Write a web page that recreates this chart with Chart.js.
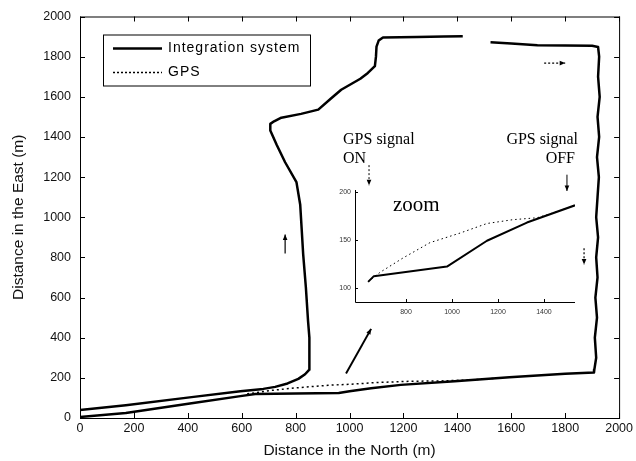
<!DOCTYPE html>
<html>
<head>
<meta charset="utf-8">
<script src="https://cdn.jsdelivr.net/npm/chart.js@4.4.1/dist/chart.umd.min.js"></script>
<style>
html, body { margin: 0; padding: 0; background: #fff; }
#wrap { position: relative; width: 636px; height: 461px; }
#main { position: absolute; left: 0; top: 0; }
#zoom { position: absolute; left: 330px; top: 130px; }
</style>
</head>
<body>
<div id="wrap">
<canvas id="main" width="636" height="461"></canvas>
<canvas id="zoom" width="255" height="195"></canvas>
</div>
<script>
// main trajectory (m)
const pathNorthA = [0, 170, 414, 595, 680, 724, 770, 810, 835, 850, 852, 850, 846, 838, 828, 822, 817, 803, 761, 730, 706, 706, 720, 747, 820, 884, 930, 969, 1040, 1068, 1094, 1098, 1100, 1108, 1124, 1250, 1350, 1420];
const pathEastA = [40, 64, 104, 133, 145, 155, 172, 195, 218, 240, 260, 400, 484, 650, 815, 950, 1062, 1175, 1274, 1360, 1432, 1465, 1478, 1496, 1515, 1536, 1590, 1635, 1690, 1719, 1753, 1800, 1850, 1880, 1896, 1898, 1900, 1902];
const pathNorthB = [1523, 1600, 1697, 1800, 1900, 1922, 1926, 1922, 1928, 1920, 1926, 1918, 1925, 1920, 1915, 1922, 1915, 1920, 1912, 1918, 1910, 1915, 1908, 1907, 1800, 1593, 1390, 1190, 1080, 1000, 960, 800, 650, 595, 414, 170, 0];
const pathEastB = [1872, 1866, 1857, 1856, 1854, 1848, 1800, 1700, 1600, 1500, 1400, 1300, 1200, 1100, 1000, 900, 800, 700, 600, 500, 400, 300, 240, 227, 220, 203, 183, 165, 148, 133, 124, 122, 120, 109, 74, 25, 5];
const gpsNorth = [620, 700, 800, 920, 1000, 1105, 1227, 1350, 1450, 1535];
const gpsEast = [120, 136, 150, 163, 168, 177, 183, 185, 190, 197];

// zoomed part
const zoomIntNorth = [635, 660, 978, 1152, 1326, 1535];
const zoomIntEast = [106, 112, 122, 149, 168, 186];
const zoomGpsNorth = [635, 687, 787, 904, 1035, 1152, 1265, 1370, 1439, 1535];
const zoomGpsEast = [106, 116, 131, 147, 157, 167, 171, 173, 178, 186];

const zoomNorthTicks = [800, 1000, 1200, 1400];
const zoomEastTicks = [100, 150, 200];

const seriesNames = ["Integration system", "GPS"];

const pts = (xs, ys) => xs.map((v, i) => ({ x: v, y: ys[i] }));
const plain = v => String(v);

function arrow(ctx, x1, y1, x2, y2, dashed, width) {
	ctx.save();
	ctx.strokeStyle = "#000";
	ctx.fillStyle = "#000";
	ctx.lineWidth = width || 1.2;
	ctx.setLineDash(dashed ? [2, 2] : []);
	ctx.beginPath();
	ctx.moveTo(x1, y1);
	ctx.lineTo(x2, y2);
	ctx.stroke();
	ctx.setLineDash([]);
	const a = Math.atan2(y2 - y1, x2 - x1), h = 6;
	ctx.beginPath();
	ctx.moveTo(x2, y2);
	ctx.lineTo(x2 - h * Math.cos(a - 0.4), y2 - h * Math.sin(a - 0.4));
	ctx.lineTo(x2 - h * Math.cos(a + 0.4), y2 - h * Math.sin(a + 0.4));
	ctx.closePath();
	ctx.fill();
	ctx.restore();
}

// direction arrows on the main plot, data units
const mainArrows = [
	{ x1: 761, y1: 820, x2: 761, y2: 914, dashed: false, w: 1.2 },
	{ x1: 1722, y1: 1768, x2: 1800, y2: 1768, dashed: true, w: 1.2 },
	{ x1: 1870, y1: 845, x2: 1870, y2: 765, dashed: true, w: 1.2 },
	{ x1: 987, y1: 222, x2: 1080, y2: 444, dashed: false, w: 2 }
];

const mainFrame = {
	id: "mainFrame",
	afterDatasetsDraw(chart) {
		const { ctx, chartArea: a, scales: { x, y } } = chart;
		ctx.save();
		ctx.strokeStyle = "#000";
		ctx.lineWidth = 1;
		ctx.strokeRect(a.left + 0.5, a.top + 0.5, a.right - a.left, a.bottom - a.top);
		ctx.beginPath();
		x.ticks.forEach(t => {
			const p = Math.round(x.getPixelForValue(t.value)) + 0.5;
			ctx.moveTo(p, a.bottom); ctx.lineTo(p, a.bottom - 5);
			ctx.moveTo(p, a.top); ctx.lineTo(p, a.top + 5);
		});
		y.ticks.forEach(t => {
			const p = Math.round(y.getPixelForValue(t.value)) + 0.5;
			ctx.moveTo(a.left, p); ctx.lineTo(a.left + 5, p);
			ctx.moveTo(a.right, p); ctx.lineTo(a.right - 5, p);
		});
		ctx.stroke();

		mainArrows.forEach(r => arrow(ctx,
			x.getPixelForValue(r.x1), y.getPixelForValue(r.y1),
			x.getPixelForValue(r.x2), y.getPixelForValue(r.y2), r.dashed, r.w));

		// legend box
		const lx = a.left + 23, ly = a.top + 18, lw = 207, lh = 51;
		ctx.fillStyle = "#fff";
		ctx.fillRect(lx, ly, lw, lh);
		ctx.lineWidth = 1;
		ctx.strokeRect(lx + 0.5, ly + 0.5, lw, lh);
		ctx.font = "14px 'Liberation Sans', Arial, sans-serif";
		ctx.letterSpacing = "1px";
		ctx.textBaseline = "middle";
		ctx.fillStyle = "#000";
		[[2.5, []], [1.3, [2, 2]]].forEach((s, i) => {
			const yy = ly + 14 + i * 24;
			ctx.lineWidth = s[0];
			ctx.setLineDash(s[1]);
			ctx.beginPath();
			ctx.moveTo(lx + 10, yy); ctx.lineTo(lx + 59, yy);
			ctx.stroke();
			ctx.fillText(seriesNames[i], lx + 65, yy);
		});
		ctx.restore();
	}
};

const mainAxisFont = { family: "'Liberation Sans', Arial, sans-serif", size: 12.5 };
const titleFont = { family: "'Liberation Sans', Arial, sans-serif", size: 15.5 };

new Chart(document.getElementById("main").getContext("2d"), {
	type: "line",
	data: {
		datasets: [
			{ label: seriesNames[0], data: pts(pathNorthA, pathEastA), borderColor: "#000", borderWidth: 2.5, borderJoinStyle: "round", pointRadius: 0, tension: 0 },
			{ label: seriesNames[0], data: pts(pathNorthB, pathEastB), borderColor: "#000", borderWidth: 2.5, borderJoinStyle: "round", pointRadius: 0, tension: 0 },
			{ label: seriesNames[1], data: pts(gpsNorth, gpsEast), borderColor: "#000", borderWidth: 1.5, borderDash: [2, 3], pointRadius: 0, tension: 0 }
		]
	},
	options: {
		responsive: false,
		animation: false,
		layout: { padding: { top: 14, right: 15, left: 0, bottom: 0 } },
		plugins: { legend: { display: false }, tooltip: { enabled: false } },
		scales: {
			x: {
				type: "linear", min: 0, max: 2000,
				grid: { display: false, drawTicks: false },
				border: { display: false },
				ticks: { stepSize: 200, font: mainAxisFont, color: "#111", padding: 3, maxRotation: 0, autoSkip: false, callback: plain },
				title: { display: true, text: "Distance in the North (m)", font: titleFont, color: "#111", padding: { top: 0, bottom: 1 } },
				afterFit: s => { s.height = 43; }
			},
			y: {
				type: "linear", min: 0, max: 2000,
				grid: { display: false, drawTicks: false },
				border: { display: false },
				ticks: { stepSize: 200, font: mainAxisFont, color: "#111", padding: 9, callback: plain },
				title: { display: true, text: "Distance in the East (m)", font: titleFont, color: "#111", padding: { top: 9, bottom: 0 } },
				afterFit: s => { s.width = 80; }
			}
		}
	},
	plugins: [mainFrame]
});

// inset annotations, inset data units
const zoomNotes = [
	{ text: "GPS signal", x: 526, y: 250, align: "left", size: 16 },
	{ text: "ON", x: 526, y: 230, align: "left", size: 16 },
	{ text: "GPS signal", x: 1548, y: 250, align: "right", size: 16 },
	{ text: "OFF", x: 1535, y: 230, align: "right", size: 16 },
	{ text: "zoom", x: 743, y: 180, align: "left", size: 21 }
];
const zoomArrows = [
	{ x1: 639, y1: 228, x2: 639, y2: 207, dashed: true },
	{ x1: 1500, y1: 218, x2: 1500, y2: 201, dashed: false }
];

const zoomFrame = {
	id: "zoomFrame",
	afterDatasetsDraw(chart) {
		const { ctx, chartArea: a, scales: { x, y } } = chart;
		ctx.save();
		ctx.strokeStyle = "#000";
		ctx.lineWidth = 1;
		ctx.beginPath();
		ctx.moveTo(a.left + 0.5, a.top);
		ctx.lineTo(a.left + 0.5, a.bottom + 0.5);
		ctx.lineTo(a.right, a.bottom + 0.5);
		x.ticks.forEach(t => {
			const p = Math.round(x.getPixelForValue(t.value)) + 0.5;
			ctx.moveTo(p, a.bottom); ctx.lineTo(p, a.bottom - 3);
		});
		y.ticks.forEach(t => {
			const p = Math.round(y.getPixelForValue(t.value)) + 0.5;
			ctx.moveTo(a.left, p); ctx.lineTo(a.left + 3, p);
		});
		ctx.stroke();

		zoomArrows.forEach(r => arrow(ctx,
			x.getPixelForValue(r.x1), y.getPixelForValue(r.y1),
			x.getPixelForValue(r.x2), y.getPixelForValue(r.y2), r.dashed, 1));

		ctx.fillStyle = "#000";
		ctx.textBaseline = "alphabetic";
		zoomNotes.forEach(n => {
			ctx.font = n.size + "px 'Liberation Serif', 'Times New Roman', serif";
			ctx.textAlign = n.align;
			ctx.fillText(n.text, x.getPixelForValue(n.x), y.getPixelForValue(n.y));
		});
		ctx.restore();
	}
};

const zoomTickFont = { family: "'Liberation Sans', Arial, sans-serif", size: 7 };

new Chart(document.getElementById("zoom").getContext("2d"), {
	type: "line",
	data: {
		datasets: [
			{ label: seriesNames[0], data: pts(zoomIntNorth, zoomIntEast), borderColor: "#000", borderWidth: 2, borderJoinStyle: "round", pointRadius: 0, tension: 0 },
			{ label: seriesNames[1], data: pts(zoomGpsNorth, zoomGpsEast), borderColor: "#000", borderWidth: 1, borderDash: [1.5, 3], pointRadius: 0, tension: 0 }
		]
	},
	options: {
		responsive: false,
		animation: false,
		layout: { padding: { top: 60, right: 10, left: 0, bottom: 0 } },
		plugins: { legend: { display: false }, tooltip: { enabled: false } },
		scales: {
			x: {
				type: "linear", min: 578, max: 1535,
				grid: { display: false, drawTicks: false },
				border: { display: false },
				ticks: { font: zoomTickFont, color: "#333", padding: 6, maxRotation: 0, autoSkip: false, callback: plain },
				afterBuildTicks: s => { s.ticks = zoomNorthTicks.map(v => ({ value: v })); },
				afterFit: s => { s.height = 23; }
			},
			y: {
				type: "linear", min: 85, max: 202,
				grid: { display: false, drawTicks: false },
				border: { display: false },
				ticks: { font: zoomTickFont, color: "#333", padding: 4, callback: plain },
				afterBuildTicks: s => { s.ticks = zoomEastTicks.map(v => ({ value: v })); },
				afterFit: s => { s.width = 25; }
			}
		}
	},
	plugins: [zoomFrame]
});
</script>
</body>
</html>
